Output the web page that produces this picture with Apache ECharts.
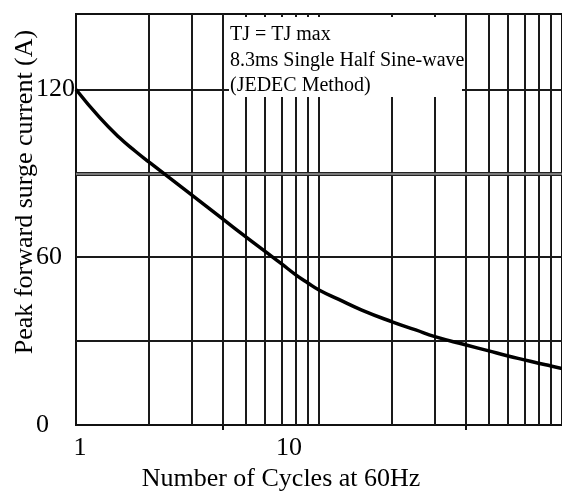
<!DOCTYPE html>
<html>
<head>
<meta charset="utf-8">
<script src="https://cdn.jsdelivr.net/npm/echarts@6/dist/echarts.min.js"></script>
<style>
  html, body { margin: 0; padding: 0; background: #fff; }
  #chart { width: 562px; height: 492px; }
</style>
</head>
<body>
<div id="chart"></div>
<script>
// surge curve
const cycles = [1, 1.25, 1.5, 1.75, 2, 3, 4, 5, 6, 7, 8, 9, 10, 12, 15, 20, 25, 30, 40, 50, 60, 70, 80, 90, 100];
const surgeAmps = [120, 110, 103, 98, 94, 82.2, 73.8, 67.3, 62.1, 57.7, 53.8, 50.8, 48.3, 45, 41.1, 36.9, 34, 31.6, 28.7, 26.5, 24.7, 23.3, 22.1, 21.1, 20.2];

// grid lines
const vLines = [2, 3, 4, 5, 6, 7, 8, 9, 10, 20, 30, 40, 50, 60, 70, 80, 90];
const hLines = [30, 60, 120];
const hDoubleLine = 90;

// ticks and labels
const xLabelValues = [1, 10];
const xTickValues = [4, 40];
const yLabelValues = [0, 60, 120];

const noteLines = ['TJ = TJ max', '8.3ms Single Half Sine-wave', '(JEDEC Method)'];

const FONT = "'Liberation Serif', 'Times New Roman', serif";

const initChart = () => {
  const chart = echarts.init(document.getElementById('chart'));

  const markData = [];
  vLines.forEach(v => markData.push({ xAxis: v }));
  hLines.forEach(v => markData.push({ yAxis: v }));
  markData.push({ yAxis: hDoubleLine, lineStyle: { color: '#222', width: 4 } });
  markData.push({ yAxis: hDoubleLine, lineStyle: { color: '#999', width: 1.5 } });

  const option = {
    animation: false,
    grid: {
      left: 76,
      right: -2,
      top: 14,
      bottom: 67,
      show: true,
      borderColor: '#111',
      borderWidth: 2
    },
    xAxis: {
      type: 'log',
      logBase: 10,
      min: 1,
      max: 100,
      axisLine: { show: true, lineStyle: { color: '#111', width: 2 } },
      axisTick: { show: true, customValues: xTickValues, length: 5, lineStyle: { color: '#111', width: 2 } },
      axisLabel: {
        customValues: xLabelValues,
        margin: 10,
        color: '#000',
        fontFamily: FONT,
        fontSize: 26,
        formatter: v => (v === 1 ? '{a|1}' : '{b|' + v + '}'),
        rich: {
          a: { fontFamily: FONT, fontSize: 26, color: '#000', padding: [0, 0, 0, 8] },
          b: { fontFamily: FONT, fontSize: 26, color: '#000', padding: [0, 60, 0, 0] }
        }
      },
      splitLine: { show: false },
      minorTick: { show: false }
    },
    yAxis: {
      type: 'value',
      min: 0,
      max: 147,
      interval: 60,
      axisLine: { show: true, lineStyle: { color: '#111', width: 2 } },
      axisTick: { show: false },
      axisLabel: {
        align: 'left',
        margin: 40,
        color: '#000',
        fontFamily: FONT,
        fontSize: 26,
        formatter: v => (yLabelValues.includes(v) ? String(v) : '')
      },
      splitLine: { show: false }
    },
    graphic: [
      {
        type: 'rect',
        z: 100,
        shape: { x: 229, y: 17, width: 233, height: 80 },
        style: { fill: '#fff' }
      },
      ...noteLines.map((t, i) => ({
        type: 'text',
        z: 101,
        x: 230,
        y: 35 + i * 25.5,
        style: {
          text: t,
          fill: '#000',
          font: '20px ' + FONT,
          textAlign: 'left',
          textVerticalAlign: 'middle'
        }
      })),
      {
        type: 'text',
        z: 101,
        x: 281,
        y: 479,
        style: {
          text: 'Number of Cycles at 60Hz',
          fill: '#000',
          font: '26px ' + FONT,
          textAlign: 'center',
          textVerticalAlign: 'middle'
        }
      },
      {
        type: 'text',
        z: 101,
        x: 25,
        y: 192,
        rotation: Math.PI / 2,
        style: {
          text: 'Peak forward surge current (A)',
          fill: '#000',
          font: '26px ' + FONT,
          textAlign: 'center',
          textVerticalAlign: 'middle'
        }
      }
    ],
    series: [
      {
        type: 'line',
        data: cycles.map((c, i) => [c, surgeAmps[i]]),
        smooth: true,
        showSymbol: false,
        lineStyle: { color: '#000', width: 3.5 },
        z: 5,
        markLine: {
          silent: true,
          symbol: 'none',
          label: { show: false },
          lineStyle: { color: '#1a1a1a', width: 2, type: 'solid' },
          data: markData
        }
      }
    ]
  };

  chart.setOption(option);
};

window.addEventListener('load', () => {
  initChart();
});
</script>
</body>
</html>
